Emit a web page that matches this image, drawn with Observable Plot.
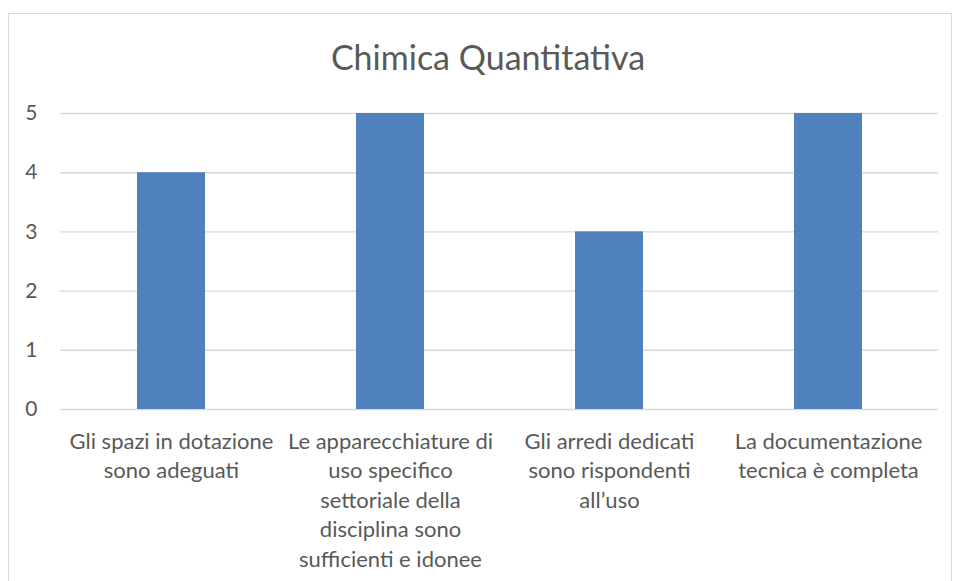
<!DOCTYPE html>
<html>
<head>
<meta charset="utf-8">
<script src="https://cdn.jsdelivr.net/npm/d3@7"></script>
<script src="https://cdn.jsdelivr.net/npm/@observablehq/plot@0.6"></script>
<style>
  html, body { margin: 0; padding: 0; background: #fff; }
  #wrap { position: relative; width: 955px; height: 581px; overflow: hidden; font-family: Lato, "Open Sans", sans-serif; }
  #frame { position: absolute; left: 8px; top: 13px; width: 944px; height: 620px; border: 1px solid #d9d9d9; box-sizing: border-box; }
  #title { position: absolute; left: 0; width: 976px; top: 35px; text-align: center; font-size: 34px; color: #595959; line-height: 44px; }
  #chart { position: absolute; left: 0; top: 0; }
</style>
</head>
<body>
<div id="wrap">
  <div id="frame"></div>
  <div id="title">Chimica Quantitativa</div>
  <div id="chart"></div>
</div>
<script>
const categories = [
  "Gli spazi in dotazione sono adeguati",
  "Le apparecchiature di uso specifico settoriale della disciplina sono sufficienti e idonee",
  "Gli arredi dedicati sono rispondenti all’uso",
  "La documentazione tecnica è completa"
];
const values = [4, 5, 3, 5];
const tickLabels = [
  "Gli spazi in dotazione\nsono adeguati",
  "Le apparecchiature di\nuso specifico\nsettoriale della\ndisciplina sono\nsufficienti e idonee",
  "Gli arredi dedicati\nsono rispondenti\nall’uso",
  "La documentazione\ntecnica è completa"
];
const yTicks = [0, 1, 2, 3, 4, 5];

const data = categories.map((c, i) => ({category: c, value: values[i]}));
const labelOf = new Map(categories.map((c, i) => [c, tickLabels[i]]));

const chart = Plot.plot({
  width: 955,
  height: 581,
  marginTop: 113,
  marginBottom: 172,
  marginLeft: 60,
  marginRight: 17,
  style: { fontFamily: "Lato, 'Open Sans', sans-serif", fontSize: "22px", color: "#595959", background: "transparent" },
  x: { domain: categories, paddingInner: 0.69, paddingOuter: 0.345, align: 0.5, label: null },
  y: { domain: [0, 5], label: null },
  marks: [
    Plot.ruleY(yTicks, { stroke: "#d9d9d9", strokeWidth: 1.4 }),
    Plot.barY(data, { x: "category", y: "value", fill: "#4f81bd" }),
    Plot.axisY({ ticks: yTicks, tickFormat: d3.format("d"), tickSize: 0, tickPadding: 23, fontSize: 21, fill: "#595959", label: null }),
    Plot.axisX({ tickSize: 0, tickPadding: 18, fontSize: 22, fill: "#595959", lineHeight: 1.345, tickFormat: d => labelOf.get(d), label: null, textOverflow: null, lineWidth: Infinity })
  ]
});
document.getElementById("chart").appendChild(chart);
</script>
</body>
</html>
